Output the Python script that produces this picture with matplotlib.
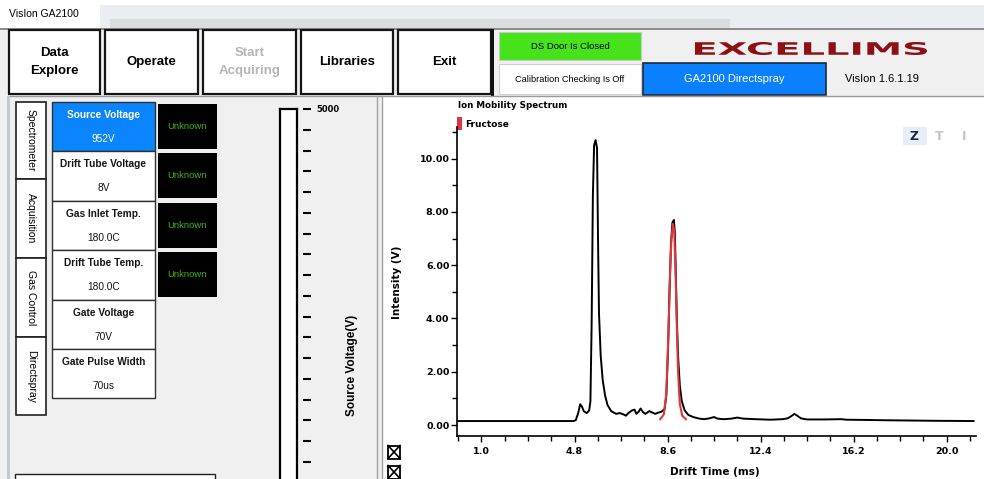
import matplotlib.pyplot as plt
from matplotlib.patches import Rectangle, PathPatch
from matplotlib.ticker import MultipleLocator, FixedLocator, FuncFormatter
from matplotlib.textpath import TextPath
from matplotlib.font_manager import FontProperties
from matplotlib.transforms import Affine2D

drift_time = [0.0, 4.75, 4.85, 4.95, 5.03, 5.1, 5.18, 5.3, 5.4, 5.45, 5.5, 5.55,
              5.6, 5.66, 5.72, 5.76, 5.8, 5.87, 5.95, 6.05, 6.15, 6.3, 6.5, 6.65,
              6.8, 6.9, 7.0, 7.15, 7.25, 7.33, 7.42, 7.5, 7.6, 7.7, 7.85, 7.95,
              8.1, 8.2, 8.35, 8.48, 8.55, 8.62, 8.68, 8.74, 8.8, 8.86, 8.9, 8.94,
              8.98, 9.03, 9.1, 9.18, 9.3, 9.45, 9.65, 9.9, 10.1, 10.3, 10.5, 10.65,
              10.9, 11.2, 11.45, 11.7, 12.2, 12.8, 13.3, 13.5, 13.65, 13.78, 13.9,
              14.05, 14.3, 15.0, 15.7, 15.9, 16.8, 17.5, 18.5, 19.5, 21.1]
intensity = [0.15, 0.15, 0.18, 0.45, 0.78, 0.7, 0.52, 0.45, 0.55, 0.9, 3.8, 8.6,
             10.5, 10.7, 10.4, 7.0, 4.2, 2.6, 1.7, 1.1, 0.75, 0.52, 0.42, 0.45,
             0.4, 0.35, 0.45, 0.55, 0.58, 0.42, 0.5, 0.62, 0.48, 0.42, 0.52, 0.48,
             0.42, 0.46, 0.5, 0.6, 1.1, 2.8, 5.0, 6.8, 7.6, 7.7, 7.2, 5.6,
             4.0, 2.6, 1.5, 0.9, 0.55, 0.38, 0.3, 0.24, 0.22, 0.25, 0.3, 0.24,
             0.22, 0.24, 0.28, 0.24, 0.22, 0.2, 0.22, 0.25, 0.33, 0.42, 0.35,
             0.25, 0.21, 0.21, 0.22, 0.2, 0.19, 0.18, 0.17, 0.16, 0.15]

fructose_time = [8.3, 8.45, 8.55, 8.63, 8.7, 8.76, 8.82, 8.87, 8.92, 8.97, 9.03, 9.1, 9.2, 9.35]
fructose_int = [0.22, 0.4, 1.2, 3.3, 5.6, 7.0, 7.55, 7.3, 6.0, 4.0, 2.0, 0.8, 0.35, 0.22]

x_ticks = [1.0, 4.8, 8.6, 12.4, 16.2, 20.0]

# --- testi dell'interfaccia ---
buttons = ["Data\nExplore", "Operate", "Start\nAcquiring", "Libraries", "Exit"]
tabs = ["Spectrometer", "Acquisition", "Gas Control", "Directspray"]
param_names = ["Source Voltage", "Drift Tube Voltage", "Gas Inlet Temp.",
               "Drift Tube Temp.", "Gate Voltage", "Gate Pulse Width"]
param_values = ["952V", "8V", "180.0C", "180.0C", "70V", "70us"]
status = ["Unknown", "Unknown", "Unknown", "Unknown"]
gauge_max = 5000

W, H = 984, 479
UI = 'Liberation Sans'
CH = 'DejaVu Sans'

fig = plt.figure(figsize=(W / 100, H / 100), dpi=100)


def frac(x0, y0, x1, y1):
    # box in pixel (origine in alto a sinistra) -> coordinate figura
    return [x0 / W, 1 - y1 / H, (x1 - x0) / W, (y1 - y0) / H]


ui = fig.add_axes([0, 0, 1, 1], zorder=0)
ui.set_xlim(0, W)
ui.set_ylim(H, 0)
ui.axis('off')


def box(x0, y0, x1, y1, fc, ec='none', lw=1.0, z=1):
    ui.add_patch(Rectangle((x0, y0), x1 - x0, y1 - y0, facecolor=fc,
                           edgecolor=ec, linewidth=lw, zorder=z))


# sfondi
box(0, 0, W, H, '#f0f0f0', z=0)
box(0, 0, W, 28, 'white', z=0.5)
box(100, 5, W, 28, '#eaeef3', z=0.6)
box(110, 19, 730, 28, '#dadcdf', z=0.7)
ui.plot([0, W], [28.5, 28.5], color='#7a7a7a', lw=1.2, zorder=1)
ui.text(9, 14, "VisIon GA2100", fontsize=7.5, family=UI, va='center', zorder=2)

# pulsanti
btn_x = [(9, 100), (105, 198), (203, 296), (301, 393), (398, 491)]
for (x0, x1), label in zip(btn_x, buttons):
    box(x0, 30, x1, 94, 'white', '#151515', 1.6)
    col = '#b4b4b4' if label.startswith('Start') else 'black'
    ui.text((x0 + x1) / 2, 62, label, fontsize=9.5, family=UI, weight='bold',
            ha='center', va='center', color=col, linespacing=1.7, zorder=2)
box(491, 29, 494, 96, '#101010')

# stato / logo
box(499, 32, 641, 60, '#46e31b', '#c8c8c8', 0.8)
ui.text(570, 46, "DS Door Is Closed", fontsize=6.8, family=UI, ha='center', va='center', zorder=2)
box(499, 64, 641, 94, 'white', '#d0d0d0', 0.8)
ui.text(570, 79, "Calibration Checking Is Off", fontsize=6.6, family=UI, ha='center', va='center', zorder=2)
box(643, 63, 826, 95, '#0a80ff', '#202838', 1.2)
ui.text(734, 79, "GA2100 Directspray", fontsize=8, family=UI, color='white',
        ha='center', va='center', zorder=2)
ui.text(882, 79, "VisIon 1.6.1.19", fontsize=8, family=UI, ha='center', va='center', zorder=2)

tp = TextPath((0, 0), "EXCELLIMS", size=10, prop=FontProperties(family=CH, weight='bold'))
bb = tp.get_extents()
tr = (Affine2D().translate(-bb.x0, -bb.y0)
      .scale(232 / bb.width, -13 / bb.height).translate(695, 55))
ui.add_patch(PathPatch(tr.transform_path(tp), facecolor='#8c1014', edgecolor='none', zorder=2))

# pannello sinistro
box(7, 96, 378, H, '#f0f0f0', z=0.8)
box(7, 96, 10, H, '#c3cad3', z=0.9)
ui.plot([10, W], [96, 96], color='#9a9a9a', lw=1, zorder=1)
box(377, 96, 382, H, '#f0f0f0', z=0.9)
ui.plot([377, 377], [96, H], color='#a0a0a0', lw=1, zorder=1)
ui.plot([382, 382], [96, H], color='#a0a0a0', lw=1, zorder=1)

tab_y = [(102, 179), (179, 258), (258, 337), (337, 415)]
for (y0, y1), label in zip(tab_y, tabs):
    box(16, y0, 46, y1, 'white', '#202020', 1.2)
    ui.text(31, (y0 + y1) / 2, label, fontsize=7.5, family=UI, rotation=270,
            ha='center', va='center', zorder=2)

for i, (name, val) in enumerate(zip(param_names, param_values)):
    y0 = 102 + i * 49.4
    sel = i == 0
    box(52, y0, 155, y0 + 49.4, '#0a84ff' if sel else 'white', '#303030', 1.0)
    c = 'white' if sel else '#151515'
    ui.text(103.5, y0 + 13, name, fontsize=7.3, family=UI, weight='bold',
            color=c, ha='center', va='center', zorder=2)
    ui.text(103.5, y0 + 37, val, fontsize=7.3, family=UI, color=c,
            ha='center', va='center', zorder=2)

for i, s in enumerate(status):
    y0 = 104 + i * 49.4
    box(158, y0, 217, y0 + 45, 'black')
    ui.text(187.5, y0 + 22.5, s, fontsize=6.8, family=UI, color='#3cb41e',
            ha='center', va='center', zorder=2)

box(15, 474, 215, 482, 'white', '#202020', 1.0)
ui.text(352, 365, "Source Voltage(V)", fontsize=8.5, family=UI, weight='bold',
        rotation=90, ha='center', va='center', zorder=2)

# pannello grafico
box(382, 97, W, H, 'white', z=0.9)
ui.text(458, 105, "Ion Mobility Spectrum", fontsize=6.3, family=CH, weight='bold',
        va='center', zorder=2)
box(457, 117, 462, 130, '#e0353b', z=2)
ui.text(465, 124, "Fructose", fontsize=6.5, family=CH, weight='bold', va='center', zorder=2)
box(903, 127, 927, 145, '#e6eef9', z=2)
ui.text(914, 136, "Z", fontsize=9, family=CH, weight='bold', color='#202838',
        ha='center', va='center', zorder=3)
ui.text(939, 136, "T", fontsize=9, family=CH, weight='bold', color='#c4c4c4',
        ha='center', va='center', zorder=3)
ui.text(964, 136, "I", fontsize=9, family=CH, weight='bold', color='#c4c4c4',
        ha='center', va='center', zorder=3)
for yc in (452, 472):
    box(388, yc - 6.5, 400, yc + 6.5, 'white', 'black', 1.3, z=2)
    ui.plot([388, 400], [yc - 6.5, yc + 6.5], color='black', lw=1.2, zorder=3)
    ui.plot([388, 400], [yc + 6.5, yc - 6.5], color='black', lw=1.2, zorder=3)

# barra tensione sorgente
gbar = fig.add_axes(frac(280, 109, 297, 524), zorder=2)
gbar.set_facecolor('white')
gbar.set_xticks([])
gbar.set_yticks([])
for sp in gbar.spines.values():
    sp.set_linewidth(1.6)

gax = fig.add_axes(frac(303, 109, 311, 524), zorder=2)
gax.set_facecolor('none')
gax.set_ylim(0, gauge_max)
gax.set_xticks([])
for sp in gax.spines.values():
    sp.set_visible(False)
gax.yaxis.tick_right()
gax.yaxis.set_major_locator(MultipleLocator(250))
gax.yaxis.set_major_formatter(FuncFormatter(lambda v, p: f"{v:.0f}" if v == gauge_max else ""))
gax.tick_params(axis='y', direction='in', length=5.8, width=1.5, pad=4, labelsize=6)
for t in gax.get_yticklabels():
    t.set_fontweight('bold')
    t.set_family(CH)

# grafico spettro
ax = fig.add_axes(frac(457, 126.7, 976, 435.7), zorder=2)
ax.set_facecolor('none')
ax.plot(drift_time, intensity, color='black', lw=1.4, zorder=3)
ax.plot(fructose_time, fructose_int, color='#e0353b', lw=1.5, zorder=4)
ax.set_xlim(0.0, 21.2)
ax.set_ylim(-0.4, 11.2)

ax.spines['top'].set_visible(False)
ax.spines['right'].set_visible(False)
ax.spines['left'].set_linewidth(1.2)
ax.spines['bottom'].set_linewidth(1.2)

ax.xaxis.set_major_locator(FixedLocator(x_ticks))
ax.xaxis.set_major_formatter(FuncFormatter(lambda v, p: f"{v:.1f}"))
ax.xaxis.set_minor_locator(MultipleLocator(0.95, offset=0.05))
ax.yaxis.set_major_locator(MultipleLocator(2))
ax.yaxis.set_major_formatter(FuncFormatter(lambda v, p: f"{v:.2f}"))
ax.yaxis.set_minor_locator(MultipleLocator(1))
ax.tick_params(which='major', direction='out', length=4, width=1.0, labelsize=6.8)
ax.tick_params(which='minor', direction='out', length=3.3, width=1.0)
ax.tick_params(axis='x', which='major', pad=4)
ax.tick_params(axis='y', which='major', pad=1.5)
for t in ax.get_xticklabels() + ax.get_yticklabels():
    t.set_fontweight('bold')
    t.set_family(CH)

ax.set_ylabel("Intensity (V)", fontsize=7.5, family=CH, weight='bold')
ax.yaxis.set_label_coords(-0.106, 0.497)
ax.set_xlabel("Drift Time (ms)", fontsize=7.5, family=CH, weight='bold')
ax.xaxis.set_label_coords(0.497, -0.101)

fig.savefig('out.png', dpi=100)
